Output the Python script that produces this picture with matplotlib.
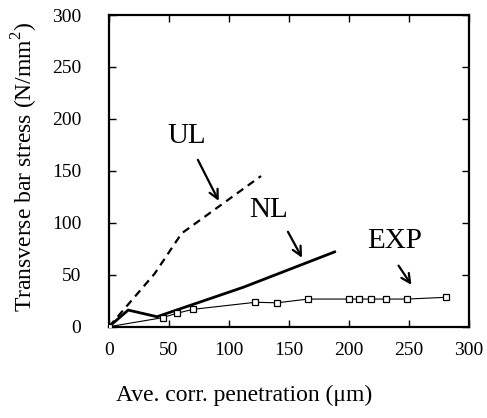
import matplotlib
matplotlib.use("Agg")
import matplotlib.pyplot as plt

plt.rcParams['font.family'] = ['Liberation Serif', 'DejaVu Serif']
plt.rcParams['mathtext.fontset'] = 'custom'
plt.rcParams['mathtext.rm'] = 'Liberation Serif'

exp_x = [0, 44.7, 56.4, 70, 122, 140, 166, 200, 208, 218.6, 230.8, 248.6, 281]
exp_y = [0, 8.7, 12.9, 16.7, 23.5, 23, 26.6, 26.6, 26.6, 26.6, 26.6, 26.6, 28.3]
nl_x = [0, 16, 40, 112, 188]
nl_y = [0, 16, 9.6, 38, 72]
ul_x = [0, 38, 60.5, 126.7]
ul_y = [0, 51, 89.8, 145]

W, H = 487, 418
fig = plt.figure(figsize=(W / 100, H / 100), dpi=100)
ax = fig.add_axes([109 / W, (H - 326.7) / H, 360 / W, (326.7 - 15) / H])

ax.plot(exp_x, exp_y, color='black', lw=0.8, marker='s', markersize=5,
        markerfacecolor='white', markeredgecolor='black', markeredgewidth=0.9, zorder=3)
ax.plot(nl_x, nl_y, color='black', lw=2.0)
ax.plot(ul_x, ul_y, color='black', lw=1.6, linestyle=(0, (3.5, 2.5)))

ax.set_xlim(0, 300)
ax.set_ylim(0, 300)
ax.set_xticks(range(0, 301, 50))
ax.set_yticks(range(0, 301, 50))
ax.tick_params(direction='in', top=True, right=True, length=5, width=1,
               labelsize=14)
ax.tick_params(axis='y', pad=20)
ax.tick_params(axis='x', pad=11)
for s in ax.spines.values():
    s.set_linewidth(1.6)

fig.text(244 / W, 1 - 395 / H, 'Ave. corr. penetration (\u03bcm)', fontsize=17,
         ha='center', va='center')
fig.text(25 / W, 1 - 167 / H, 'Transverse bar stress (N/mm$^2$)', fontsize=17,
         rotation=90, ha='center', va='center')

arrow = dict(arrowstyle='->', color='black', lw=1.6, mutation_scale=16)
ax.annotate('', xy=(92.5, 118.7), xytext=(73, 163), arrowprops=arrow)
ax.text(64.7, 177, 'UL', fontsize=21, ha='center', va='baseline')
ax.annotate('', xy=(162, 64), xytext=(148, 93.7), arrowprops=arrow)
ax.text(132.8, 106, 'NL', fontsize=21, ha='center', va='baseline')
ax.annotate('', xy=(253.3, 38), xytext=(240, 61), arrowprops=arrow)
ax.text(238, 75.4, 'EXP', fontsize=21, ha='center', va='baseline')

fig.savefig('out.png', dpi=100)
